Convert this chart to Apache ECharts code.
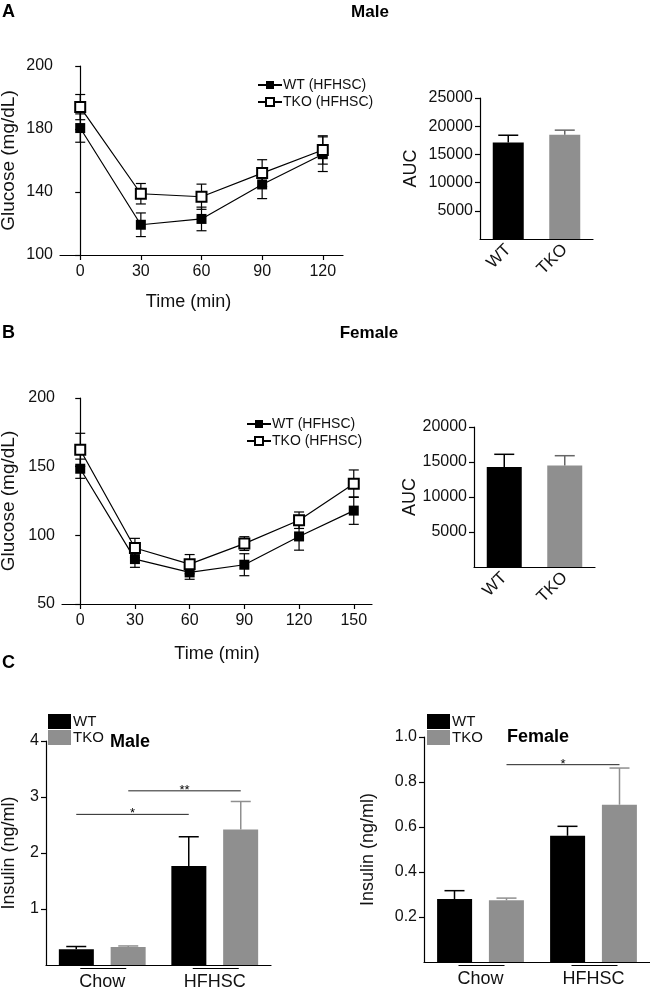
<!DOCTYPE html>
<html><head><meta charset="utf-8">
<script src="https://cdn.jsdelivr.net/npm/echarts@6/dist/echarts.min.js"></script>
<style>html,body{margin:0;padding:0;background:#fff}#c{width:650px;height:988px}</style>
</head><body><div id="c"></div>
<script>
// ---------- Panel A (Male ITT) ----------
const timeA = [0, 30, 60, 90, 120];
const wtA = [180.6, 119.2, 122.9, 144.8, 164.0];
const wtAErr = [9, 7.5, 7.5, 9, 11];
const tkoA = [193.9, 138.9, 137.0, 152.0, 166.7];
const tkoAErr = [8, 6.5, 8, 8.5, 9];
const xTicksA = [0, 30, 60, 90, 120];
const yTicksA = [100, 140, 180, 220];
const yTickLabelsA = ['100', '140', '180', '200'];
// AUC
const aucCats = ['WT', 'TKO'];
const aucA = [17100, 18500];
const aucAErr = [1300, 800];
// ---------- Panel B (Female ITT) ----------
const timeB = [0, 30, 60, 90, 120, 150];
const wtB = [148.5, 82.7, 73.0, 78.6, 99.2, 118.0];
const wtBErr = [7, 6, 5, 8, 10, 10];
const tkoB = [162.3, 90.8, 79.0, 94.0, 111.0, 137.6];
const tkoBErr = [12, 7, 7, 5, 6, 10];
const xTicksB = [0, 30, 60, 90, 120, 150];
const aucB = [14300, 14500];
const aucBErr = [1800, 1400];
// ---------- Panel C (Insulin) ----------
const dietCats = ['Chow', 'HFHSC'];
const insMaleWT = [0.28, 1.77];
const insMaleWTErr = [0.05, 0.52];
const insMaleTKO = [0.32, 2.42];
const insMaleTKOErr = [0.02, 0.50];
const insFemWT = [0.28, 0.561];
const insFemWTErr = [0.037, 0.042];
const insFemTKO = [0.274, 0.699];
const insFemTKOErr = [0.01, 0.163];
const sigMale = [['WT', 0, 1, 2.69, '*'], ['TKO', 0, 1, 3.11, '**']];
const sigFem = [['TKO', 0, 1, 0.877, '*']];

const GREY = '#8f8f8f';
const FONT = '"Liberation Sans", Arial, Helvetica, sans-serif';
const BAR_OFF = 26;

const chart = echarts.init(document.getElementById('c'), null, {renderer: 'canvas'});

const axisLineStyle = {show: true, lineStyle: {color: '#000', width: 1.2}};
const tickStyle = {show: true, length: 5, lineStyle: {color: '#000', width: 1.2}};
const lblStyle = {color: '#111', fontSize: 16, fontFamily: FONT};
const nameStyle = {color: '#111', fontSize: 18, fontFamily: FONT};
const plain = v => String(v);

function lineErr(xs, ys, es, idx) {
  return {
    type: 'custom', xAxisIndex: idx, yAxisIndex: idx, silent: true, z: 1,
    data: xs.map((x, i) => [x, ys[i], es[i]]),
    renderItem(p, api) {
      const x = api.value(0), y = api.value(1), e = api.value(2);
      const t = api.coord([x, y + e]), b = api.coord([x, y - e]);
      const w = 5, st = {stroke: '#000', lineWidth: 1.2};
      return {type: 'group', children: [
        {type: 'line', shape: {x1: t[0], y1: t[1], x2: b[0], y2: b[1]}, style: st},
        {type: 'line', shape: {x1: t[0] - w, y1: t[1], x2: t[0] + w, y2: t[1]}, style: st},
        {type: 'line', shape: {x1: b[0] - w, y1: b[1], x2: b[0] + w, y2: b[1]}, style: st}
      ]};
    }
  };
}
function barErr(vals, errs, idx, off, colors, hw) {
  return {
    type: 'custom', xAxisIndex: idx, yAxisIndex: idx, silent: true, z: 3,
    data: vals.map((v, i) => [i, v, errs[i]]),
    renderItem(p, api) {
      const c0 = api.coord([api.value(0), api.value(1)]);
      const c1 = api.coord([api.value(0), api.value(1) + api.value(2)]);
      const x = c0[0] + off;
      const col = Array.isArray(colors) ? colors[p.dataIndex] : colors;
      const st = {stroke: col, lineWidth: 1.5};
      return {type: 'group', children: [
        {type: 'line', shape: {x1: x, y1: c0[1], x2: x, y2: c1[1]}, style: st},
        {type: 'line', shape: {x1: x - hw, y1: c1[1], x2: x + hw, y2: c1[1]}, style: st}
      ]};
    }
  };
}
function underline(idx) {
  return {
    type: 'custom', xAxisIndex: idx, yAxisIndex: idx, silent: true, z: 3,
    data: dietCats.map((c, i) => [i, 0]),
    renderItem(p, api) {
      const c = api.coord([api.value(0), 0]);
      return {type: 'line', shape: {x1: c[0] - 22, y1: c[1] + 3.5, x2: c[0] + 24, y2: c[1] + 3.5},
        style: {stroke: '#000', lineWidth: 1}};
    }
  };
}
function sigSeries(sig, idx) {
  return {
    type: 'custom', xAxisIndex: idx, yAxisIndex: idx, silent: true, z: 4,
    data: sig.map(s => [s[1], s[2], s[3]]),
    renderItem(p, api) {
      const s = sig[p.dataIndex];
      const off = s[0] === 'WT' ? -BAR_OFF : BAR_OFF;
      const a = api.coord([s[1], s[3]]), b = api.coord([s[2], s[3]]);
      return {type: 'group', children: [
        {type: 'line', shape: {x1: a[0] + off, y1: a[1], x2: b[0] + off, y2: a[1]},
          style: {stroke: '#222', lineWidth: 1}},
        {type: 'text', x: (a[0] + b[0]) / 2 + off, y: a[1] + 6,
          style: {text: s[4], fill: '#000', font: '13px ' + FONT, textAlign: 'center', textVerticalAlign: 'bottom'}}
      ]};
    }
  };
}
const lineLegend = (left, top) => ({orient: 'vertical', left: left, top: top, padding: 0, itemGap: 3, itemWidth: 24, itemHeight: 10,
  textStyle: {fontSize: 14, color: '#111', fontFamily: FONT, padding: [0, 0, 0, -4]}, data: ['WT (HFHSC)', 'TKO (HFHSC)']});
const barLegend = (left, top) => ({orient: 'vertical', left: left, top: top, padding: 0, itemGap: 1, itemWidth: 23, itemHeight: 15, icon: 'rect',
  textStyle: {fontSize: 15, color: '#111', fontFamily: FONT, padding: [0, 0, 0, -3]}, data: ['WT', 'TKO']});

const option = {
  backgroundColor: '#fff',
  animation: false,
  textStyle: {fontFamily: FONT},
  graphic: [
    {type: 'text', left: 2, top: 3, style: {text: 'A', font: 'bold 18px ' + FONT, fill: '#000'}},
    {type: 'text', x: 370, y: 12, style: {text: 'Male', font: 'bold 17px ' + FONT, fill: '#000', textAlign: 'center', textVerticalAlign: 'middle'}},
    {type: 'text', x: 2, y: 333, style: {text: 'B', font: 'bold 18px ' + FONT, fill: '#000', textVerticalAlign: 'middle'}},
    {type: 'text', x: 369, y: 333, style: {text: 'Female', font: 'bold 17px ' + FONT, fill: '#000', textAlign: 'center', textVerticalAlign: 'middle'}},
    {type: 'text', x: 2, y: 663, style: {text: 'C', font: 'bold 18px ' + FONT, fill: '#000', textVerticalAlign: 'middle'}},
    {type: 'text', x: 110, y: 742, style: {text: 'Male', font: 'bold 18px ' + FONT, fill: '#000', textVerticalAlign: 'middle'}},
    {type: 'text', x: 507, y: 737, style: {text: 'Female', font: 'bold 18px ' + FONT, fill: '#000', textVerticalAlign: 'middle'}}
  ],
  legend: [lineLegend(257, 78), lineLegend(246, 417), barLegend(48, 714), barLegend(427, 714)],
  grid: [
    {left: 60, top: 66, width: 283, height: 189, outerBoundsMode: 'none'},
    {left: 480, top: 98, width: 113, height: 141, outerBoundsMode: 'none'},
    {left: 62, top: 398, width: 310, height: 206, outerBoundsMode: 'none'},
    {left: 474, top: 427, width: 121, height: 140, outerBoundsMode: 'none'},
    {left: 46, top: 741, width: 225, height: 224, outerBoundsMode: 'none'},
    {left: 424, top: 737, width: 226, height: 225, outerBoundsMode: 'none'}
  ],
  xAxis: [
    {gridIndex: 0, type: 'value', min: -10, max: 130, splitLine: {show: false},
     axisLine: axisLineStyle, axisTick: Object.assign({customValues: xTicksA}, tickStyle),
     axisLabel: Object.assign({customValues: xTicksA, margin: 9}, lblStyle),
     name: 'Time (min)', nameLocation: 'middle', nameGap: 38, nameTextStyle: Object.assign({padding: [0, 26, 0, 0]}, nameStyle)},
    {gridIndex: 1, type: 'category', data: aucCats, axisLine: axisLineStyle, axisTick: {show: false},
     axisLabel: Object.assign({}, lblStyle, {rotate: 45, fontSize: 17, margin: 8})},
    {gridIndex: 2, type: 'value', min: -10, max: 160, splitLine: {show: false},
     axisLine: axisLineStyle, axisTick: Object.assign({customValues: xTicksB}, tickStyle),
     axisLabel: Object.assign({customValues: xTicksB, margin: 9}, lblStyle),
     name: 'Time (min)', nameLocation: 'middle', nameGap: 41, nameTextStyle: nameStyle},
    {gridIndex: 3, type: 'category', data: aucCats, axisLine: axisLineStyle, axisTick: {show: false},
     axisLabel: Object.assign({}, lblStyle, {rotate: 45, fontSize: 17, margin: 8})},
    {gridIndex: 4, type: 'category', data: dietCats, axisLine: axisLineStyle, axisTick: {show: false},
     axisLabel: Object.assign({}, lblStyle, {fontSize: 18, margin: 8})},
    {gridIndex: 5, type: 'category', data: dietCats, axisLine: axisLineStyle, axisTick: {show: false},
     axisLabel: Object.assign({}, lblStyle, {fontSize: 18, margin: 8})}
  ],
  yAxis: [
    {gridIndex: 0, type: 'value', min: 100, max: 220, splitLine: {show: false},
     axisLine: axisLineStyle, axisTick: Object.assign({customValues: yTicksA}, tickStyle),
     axisLabel: Object.assign({customValues: yTicksA, margin: 7,
       formatter: v => yTickLabelsA[yTicksA.indexOf(v)]}, lblStyle),
     name: 'Glucose (mg/dL)', nameLocation: 'middle', nameGap: 42, nameTextStyle: Object.assign({}, nameStyle, {fontSize: 19})},
    {gridIndex: 1, type: 'value', min: 0, max: 25000, interval: 5000, splitLine: {show: false},
     axisLine: axisLineStyle, axisTick: tickStyle,
     axisLabel: Object.assign({showMinLabel: false, margin: 7, formatter: plain}, lblStyle),
     name: 'AUC', nameLocation: 'middle', nameGap: 60, nameTextStyle: nameStyle},
    {gridIndex: 2, type: 'value', min: 50, max: 200, interval: 50, splitLine: {show: false},
     axisLine: axisLineStyle, axisTick: tickStyle,
     axisLabel: Object.assign({margin: 7}, lblStyle),
     name: 'Glucose (mg/dL)', nameLocation: 'middle', nameGap: 44, nameTextStyle: Object.assign({}, nameStyle, {fontSize: 19})},
    {gridIndex: 3, type: 'value', min: 0, max: 20000, interval: 5000, splitLine: {show: false},
     axisLine: axisLineStyle, axisTick: tickStyle,
     axisLabel: Object.assign({showMinLabel: false, margin: 7, formatter: plain}, lblStyle),
     name: 'AUC', nameLocation: 'middle', nameGap: 54, nameTextStyle: nameStyle},
    {gridIndex: 4, type: 'value', min: 0, max: 4, interval: 1, splitLine: {show: false},
     axisLine: axisLineStyle, axisTick: tickStyle,
     axisLabel: Object.assign({showMinLabel: false, margin: 7}, lblStyle),
     name: 'Insulin (ng/ml)', nameLocation: 'middle', nameGap: 28, nameTextStyle: nameStyle},
    {gridIndex: 5, type: 'value', min: 0, max: 1, interval: 0.2, splitLine: {show: false},
     axisLine: axisLineStyle, axisTick: tickStyle,
     axisLabel: Object.assign({showMinLabel: false, margin: 7, formatter: v => v.toFixed(1)}, lblStyle),
     name: 'Insulin (ng/ml)', nameLocation: 'middle', nameGap: 47, nameTextStyle: nameStyle}
  ],
  series: [
    // A lines
    lineErr(timeA, wtA, wtAErr, 0),
    lineErr(timeA, tkoA, tkoAErr, 0),
    {name: 'WT (HFHSC)', type: 'line', xAxisIndex: 0, yAxisIndex: 0, z: 3,
     data: timeA.map((t, i) => [t, wtA[i]]), symbol: 'rect', symbolSize: 10,
     itemStyle: {color: '#000'}, lineStyle: {color: '#000', width: 1.2}},
    {name: 'TKO (HFHSC)', type: 'line', xAxisIndex: 0, yAxisIndex: 0, z: 4,
     data: timeA.map((t, i) => [t, tkoA[i]]), symbol: 'rect', symbolSize: 10,
     itemStyle: {color: '#fff', borderColor: '#000', borderWidth: 2}, lineStyle: {color: '#000', width: 1.2}},
    // AUC A
    {name: 'AUC male', type: 'bar', xAxisIndex: 1, yAxisIndex: 1, barWidth: 31,
     data: aucA.map((v, i) => ({value: v, itemStyle: {color: i === 0 ? '#000' : GREY}}))},
    barErr(aucA, aucAErr, 1, 0, ['#000', '#666'], 10),
    // B lines
    lineErr(timeB, wtB, wtBErr, 2),
    lineErr(timeB, tkoB, tkoBErr, 2),
    {name: 'WT (HFHSC)', type: 'line', xAxisIndex: 2, yAxisIndex: 2, z: 3,
     data: timeB.map((t, i) => [t, wtB[i]]), symbol: 'rect', symbolSize: 10,
     itemStyle: {color: '#000'}, lineStyle: {color: '#000', width: 1.2}},
    {name: 'TKO (HFHSC)', type: 'line', xAxisIndex: 2, yAxisIndex: 2, z: 4,
     data: timeB.map((t, i) => [t, tkoB[i]]), symbol: 'rect', symbolSize: 10,
     itemStyle: {color: '#fff', borderColor: '#000', borderWidth: 2}, lineStyle: {color: '#000', width: 1.2}},
    // AUC B
    {name: 'AUC female', type: 'bar', xAxisIndex: 3, yAxisIndex: 3, barWidth: 35,
     data: aucB.map((v, i) => ({value: v, itemStyle: {color: i === 0 ? '#000' : GREY}}))},
    barErr(aucB, aucBErr, 3, 0, ['#000', '#666'], 10),
    // C male
    {name: 'WT', type: 'bar', xAxisIndex: 4, yAxisIndex: 4, barWidth: 35, barGap: '48%',
     data: insMaleWT, itemStyle: {color: '#000'}},
    {name: 'TKO', type: 'bar', xAxisIndex: 4, yAxisIndex: 4, barWidth: 35, barGap: '48%',
     data: insMaleTKO, itemStyle: {color: GREY}},
    barErr(insMaleWT, insMaleWTErr, 4, -BAR_OFF, '#000', 10),
    barErr(insMaleTKO, insMaleTKOErr, 4, BAR_OFF, GREY, 10),
    underline(4),
    sigSeries(sigMale, 4),
    // C female
    {name: 'WT', type: 'bar', xAxisIndex: 5, yAxisIndex: 5, barWidth: 35, barGap: '48%',
     data: insFemWT, itemStyle: {color: '#000'}},
    {name: 'TKO', type: 'bar', xAxisIndex: 5, yAxisIndex: 5, barWidth: 35, barGap: '48%',
     data: insFemTKO, itemStyle: {color: GREY}},
    barErr(insFemWT, insFemWTErr, 5, -BAR_OFF, '#000', 10),
    barErr(insFemTKO, insFemTKOErr, 5, BAR_OFF, GREY, 10),
    underline(5),
    sigSeries(sigFem, 5)
  ]
};
chart.setOption(option);
</script>
</body></html>
